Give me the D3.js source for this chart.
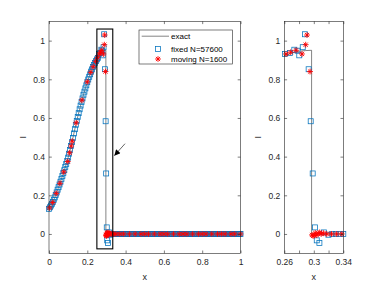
<!DOCTYPE html>
<html>
<head>
<meta charset="utf-8">
<script src="https://cdn.jsdelivr.net/npm/d3@7"></script>
<style>
  body { margin: 0; background: #fff; }
  svg { display: block; font-family: "Liberation Sans", Arial, sans-serif; }
</style>
</head>
<body>
<script>
// exact solution (smooth part, then the jump down to zero)
const exactCurveX = [0, 0.02, 0.04, 0.06, 0.08, 0.10, 0.12, 0.14, 0.16, 0.18, 0.20, 0.22, 0.24, 0.26, 0.28, 0.297];
const exactCurveY = [0.13, 0.165, 0.215, 0.27, 0.33, 0.395, 0.475, 0.565, 0.645, 0.72, 0.785, 0.84, 0.885, 0.92, 0.945, 0.95];
const exactJumpX = [0.297, 0.297, 1];
const exactJumpY = [0.95, 0, 0];

// fixed mesh, N=57600 (plotted subsample): curve part, then the flat tail
const fixedX = [0, 0.005, 0.01, 0.015, 0.02, 0.025, 0.03, 0.035, 0.04, 0.045, 0.05, 0.055, 0.06, 0.065, 0.07, 0.075,
  0.08, 0.085, 0.09, 0.095, 0.1, 0.105, 0.11, 0.115, 0.12, 0.125, 0.13, 0.135, 0.14, 0.145, 0.15, 0.155,
  0.16, 0.165, 0.17, 0.175, 0.18, 0.185, 0.19, 0.195, 0.2, 0.205, 0.21, 0.215, 0.22, 0.225, 0.23, 0.235,
  0.24, 0.245, 0.25, 0.255, 0.261, 0.2677, 0.2736, 0.278, 0.2803, 0.285, 0.288, 0.293, 0.2958, 0.2985,
  0.3016, 0.304, 0.3076, 0.3139, 0.3198, 0.325, 0.33, 0.335, 0.34,
  0.345, 0.35, 0.355, 0.36, 0.365, 0.37, 0.375, 0.38, 0.385, 0.39, 0.395, 0.4, 0.405, 0.41, 0.415, 0.42,
  0.425, 0.43, 0.435, 0.44, 0.445, 0.45, 0.455, 0.46, 0.465, 0.47, 0.475, 0.48, 0.485, 0.49, 0.495, 0.5,
  0.505, 0.51, 0.515, 0.52, 0.525, 0.53, 0.535, 0.54, 0.545, 0.55, 0.555, 0.56, 0.565, 0.57, 0.575, 0.58,
  0.585, 0.59, 0.595, 0.6, 0.605, 0.61, 0.615, 0.62, 0.625, 0.63, 0.635, 0.64, 0.645, 0.65, 0.655, 0.66,
  0.665, 0.67, 0.675, 0.68, 0.685, 0.69, 0.695, 0.7, 0.705, 0.71, 0.715, 0.72, 0.725, 0.73, 0.735, 0.74,
  0.745, 0.75, 0.755, 0.76, 0.765, 0.77, 0.775, 0.78, 0.785, 0.79, 0.795, 0.8, 0.805, 0.81, 0.815, 0.82,
  0.825, 0.83, 0.835, 0.84, 0.845, 0.85, 0.855, 0.86, 0.865, 0.87, 0.875, 0.88, 0.885, 0.89, 0.895, 0.9,
  0.905, 0.91, 0.915, 0.92, 0.925, 0.93, 0.935, 0.94, 0.945, 0.95, 0.955, 0.96, 0.965, 0.97, 0.975, 0.98,
  0.985, 0.99, 0.995, 1];
const fixedY = [0.13, 0.138, 0.147, 0.156, 0.165, 0.177, 0.189, 0.202, 0.215, 0.229, 0.242, 0.256, 0.27, 0.285, 0.3, 0.315,
  0.33, 0.346, 0.362, 0.378, 0.395, 0.415, 0.435, 0.455, 0.475, 0.497, 0.52, 0.542, 0.565, 0.585, 0.605, 0.625,
  0.645, 0.664, 0.683, 0.701, 0.72, 0.736, 0.753, 0.769, 0.785, 0.799, 0.813, 0.826, 0.84, 0.851, 0.863, 0.874,
  0.885, 0.894, 0.903, 0.911, 0.931, 0.936, 0.953, 0.948, 0.924, 0.966, 1.033, 0.852, 0.583, 0.313,
  0.034, -0.033, -0.047, 0.008, -0.004, 0, 0, 0, 0,
  0, 0, 0, 0, 0, 0, 0, 0, 0, 0, 0, 0, 0, 0, 0, 0,
  0, 0, 0, 0, 0, 0, 0, 0, 0, 0, 0, 0, 0, 0, 0, 0,
  0, 0, 0, 0, 0, 0, 0, 0, 0, 0, 0, 0, 0, 0, 0, 0,
  0, 0, 0, 0, 0, 0, 0, 0, 0, 0, 0, 0, 0, 0, 0, 0,
  0, 0, 0, 0, 0, 0, 0, 0, 0, 0, 0, 0, 0, 0, 0, 0,
  0, 0, 0, 0, 0, 0, 0, 0, 0, 0, 0, 0, 0, 0, 0, 0,
  0, 0, 0, 0, 0, 0, 0, 0, 0, 0, 0, 0, 0, 0, 0, 0,
  0, 0, 0, 0, 0, 0, 0, 0, 0, 0, 0, 0, 0, 0, 0, 0,
  0, 0, 0, 0];

// moving mesh, N=1600 (plotted subsample)
const movingX = [0.003, 0.019, 0.038, 0.057, 0.077, 0.098, 0.108, 0.116, 0.121, 0.142, 0.172, 0.2, 0.218, 0.231,
  0.244, 0.254, 0.2623, 0.2687, 0.2759, 0.284, 0.289, 0.2908, 0.2949,
  0.2975, 0.299, 0.3005, 0.302, 0.304, 0.306, 0.308, 0.31, 0.313, 0.3175, 0.324, 0.331, 0.338,
  0.35, 0.37, 0.39, 0.42, 0.45, 0.48, 0.5, 0.52, 0.55, 0.58, 0.6, 0.62, 0.65, 0.68, 0.7, 0.72,
  0.75, 0.78, 0.8, 0.82, 0.85, 0.88, 0.9, 0.92, 0.95, 0.97, 1];
const movingY = [0.135, 0.163, 0.21, 0.262, 0.321, 0.375, 0.42, 0.455, 0.48, 0.575, 0.692, 0.787, 0.836, 0.865,
  0.893, 0.912, 0.931, 0.94, 0.95, 0.931, 0.979, 1.029, 0.84,
  -0.005, -0.01, -0.008, 0.005, -0.006, 0.003, 0.008, 0, 0.004, 0, 0, 0, 0,
  0, 0, 0, 0, 0, 0, 0, 0, 0, 0, 0, 0, 0, 0, 0, 0,
  0, 0, 0, 0, 0, 0, 0, 0, 0, 0, 0];

const legendLabels = ['exact', 'fixed N=57600', 'moving N=1600'];
const mainXTicks = [0, 0.2, 0.4, 0.6, 0.8, 1];
const zoomXTicks = [0.26, 0.28, 0.3, 0.32, 0.34];
const zoomXLabels = ['0.26', '', '0.3', '', '0.34'];
const yTicks = [0, 0.2, 0.4, 0.6, 0.8, 1];

// zoom window drawn on the main plot, and the arrow annotation (data units)
const zoomBox = { x0: 0.25, x1: 0.333, y0: -0.077, y1: 1.06 };
const arrowFrom = [0.397, 0.467];
const arrowTo = [0.341, 0.405];

const width = 380, height = 285;
const axisColor = '#262626';
const blue = '#0072BD', red = '#FF0000';
const squareSize = 5;

const svg = d3.select('body').append('svg')
  .attr('width', width)
  .attr('height', height);

const defs = svg.append('defs');

const yScale = d3.scaleLinear().domain([-0.1, 1.1]).range([253.3, 21.3]);
const xMain = d3.scaleLinear().domain([0, 1]).range([49, 240.5]);
const xZoom = d3.scaleLinear().domain([0.26, 0.34]).range([284.3, 343.3]);

const fixedData = fixedX.map((x, i) => ({ x, y: fixedY[i] }));
const movingData = movingX.map((x, i) => ({ x, y: movingY[i] }));
const curveData = exactCurveX.map((x, i) => ({ x, y: exactCurveY[i] }));
const jumpData = exactJumpX.map((x, i) => ({ x, y: exactJumpY[i] }));

function starPath(r) {
  const a = r * 0.72;
  return `M${-r},0H${r}M0,${-r}V${r}M${-a},${-a}L${a},${a}M${-a},${a}L${a},${-a}`;
}

function drawPanel(xScale, xTicks, xLabels, id) {
  const [xa, xb] = xScale.range();
  const [yb, ya] = yScale.range();
  const g = svg.append('g');

  defs.append('clipPath').attr('id', id)
    .append('rect')
    .attr('x', xa).attr('y', ya)
    .attr('width', xb - xa).attr('height', yb - ya);

  const plot = g.append('g').attr('clip-path', `url(#${id})`);

  // exact solution
  const smooth = d3.line().x(d => xScale(d.x)).y(d => yScale(d.y)).curve(d3.curveMonotoneX);
  const straight = d3.line().x(d => xScale(d.x)).y(d => yScale(d.y));
  plot.append('path').attr('d', smooth(curveData))
    .attr('fill', 'none').attr('stroke', '#333').attr('stroke-width', 0.6);
  plot.append('path').attr('d', straight(jumpData))
    .attr('fill', 'none').attr('stroke', '#333').attr('stroke-width', 0.6);

  const [d0, d1] = xScale.domain();
  const inside = d => d.x >= d0 - 1e-9 && d.x <= d1 + 1e-9;

  // fixed mesh squares
  const s = squareSize;
  g.append('g').selectAll('rect')
    .data(fixedData.filter(inside))
    .join('rect')
    .attr('x', d => xScale(d.x) - s / 2)
    .attr('y', d => yScale(d.y) - s / 2)
    .attr('width', s).attr('height', s)
    .attr('fill', 'none')
    .attr('stroke', blue)
    .attr('stroke-width', 0.75);

  // moving mesh stars
  g.append('g').selectAll('path')
    .data(movingData.filter(inside))
    .join('path')
    .attr('transform', d => `translate(${xScale(d.x)},${yScale(d.y)})`)
    .attr('d', starPath(2.9))
    .attr('stroke', red)
    .attr('stroke-width', 0.9)
    .attr('fill', 'none');

  // box
  g.append('rect')
    .attr('x', xa).attr('y', ya)
    .attr('width', xb - xa).attr('height', yb - ya)
    .attr('fill', 'none').attr('stroke', axisColor).attr('stroke-width', 0.6);

  const styleAxis = sel => {
    sel.select('.domain').remove();
    sel.selectAll('line').attr('stroke', axisColor).attr('stroke-width', 0.6);
    sel.selectAll('text').attr('fill', axisColor).style('font-size', '8.5px')
      .style('font-family', '"Liberation Sans", Arial, sans-serif');
  };

  g.append('g').attr('transform', `translate(0,${yb})`)
    .call(d3.axisBottom(xScale).tickValues(xTicks).tickSizeInner(-2.8).tickSizeOuter(0)
      .tickPadding(6).tickFormat((d, i) => xLabels(d, i)))
    .call(styleAxis);
  g.append('g').attr('transform', `translate(0,${ya})`)
    .call(d3.axisTop(xScale).tickValues(xTicks).tickSizeInner(-2.8).tickSizeOuter(0).tickFormat(''))
    .call(styleAxis);
  g.append('g').attr('transform', `translate(${xa},0)`)
    .call(d3.axisLeft(yScale).tickValues(yTicks).tickSizeInner(-2.8).tickSizeOuter(0)
      .tickPadding(4).tickFormat(d3.format('~g')))
    .call(styleAxis);
  g.append('g').attr('transform', `translate(${xb},0)`)
    .call(d3.axisRight(yScale).tickValues(yTicks).tickSizeInner(-2.8).tickSizeOuter(0).tickFormat(''))
    .call(styleAxis);

  // axis titles
  g.append('text')
    .attr('x', (xa + xb) / 2).attr('y', 279.5)
    .attr('text-anchor', 'middle')
    .attr('fill', axisColor)
    .style('font-size', '9px')
    .text('x');
  g.append('text')
    .attr('transform', `translate(${xa - 23},${(ya + yb) / 2}) rotate(-90)`)
    .attr('text-anchor', 'middle')
    .attr('fill', axisColor)
    .style('font-size', '9px')
    .text('I');

  return g;
}

const mainPanel = drawPanel(xMain, mainXTicks, d => d3.format('~g')(d), 'clipMain');
drawPanel(xZoom, zoomXTicks, (d, i) => zoomXLabels[i], 'clipZoom');

// zoom window rectangle
mainPanel.append('rect')
  .attr('x', xMain(zoomBox.x0))
  .attr('y', yScale(zoomBox.y1))
  .attr('width', xMain(zoomBox.x1) - xMain(zoomBox.x0))
  .attr('height', yScale(zoomBox.y0) - yScale(zoomBox.y1))
  .attr('fill', 'none')
  .attr('stroke', '#000')
  .attr('stroke-width', 1.1);

// arrow
defs.append('marker')
  .attr('id', 'arrowHead')
  .attr('viewBox', '0 0 10 10')
  .attr('refX', 10).attr('refY', 5)
  .attr('markerUnits', 'userSpaceOnUse')
  .attr('markerWidth', 7).attr('markerHeight', 6)
  .attr('orient', 'auto')
  .append('path')
  .attr('d', 'M0,0L10,5L0,10Z')
  .attr('fill', '#000');

mainPanel.append('line')
  .attr('x1', xMain(arrowFrom[0])).attr('y1', yScale(arrowFrom[1]))
  .attr('x2', xMain(arrowTo[0])).attr('y2', yScale(arrowTo[1]))
  .attr('stroke', '#000')
  .attr('stroke-width', 0.6)
  .attr('marker-end', 'url(#arrowHead)');

// legend
const legend = svg.append('g').attr('transform', 'translate(139,30)');
legend.append('rect')
  .attr('width', 93.3).attr('height', 34)
  .attr('fill', '#fff')
  .attr('stroke', axisColor)
  .attr('stroke-width', 0.6);

const rowY = [6.2, 19, 29];
legend.append('line')
  .attr('x1', 2.7).attr('x2', 30).attr('y1', rowY[0]).attr('y2', rowY[0])
  .attr('stroke', '#333').attr('stroke-width', 0.6);
legend.append('rect')
  .attr('x', 19 - squareSize / 2).attr('y', rowY[1] - squareSize / 2)
  .attr('width', squareSize).attr('height', squareSize)
  .attr('fill', 'none').attr('stroke', blue).attr('stroke-width', 0.75);
legend.append('path')
  .attr('transform', `translate(19,${rowY[2]})`)
  .attr('d', starPath(2.9))
  .attr('stroke', red).attr('stroke-width', 0.9).attr('fill', 'none');

legend.selectAll('text.lbl')
  .data(legendLabels)
  .join('text')
  .attr('class', 'lbl')
  .attr('x', 32)
  .attr('y', (d, i) => rowY[i])
  .attr('dy', '0.34em')
  .attr('fill', '#000')
  .style('font-size', '8px')
  .text(d => d);
</script>
</body>
</html>
